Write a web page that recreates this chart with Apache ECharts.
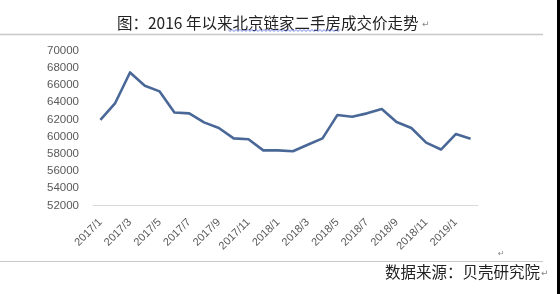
<!DOCTYPE html>
<html>
<head>
<meta charset="utf-8">
<script src="https://cdn.jsdelivr.net/npm/echarts@6/dist/echarts.min.js"></script>
<style>
html,body{margin:0;padding:0;background:#fff;}
#c{width:560px;height:294px;}
</style>
</head>
<body>
<div id="c"></div>
<script>
var categories = ['2017/1','2017/2','2017/3','2017/4','2017/5','2017/6','2017/7','2017/8','2017/9','2017/10','2017/11','2017/12',
  '2018/1','2018/2','2018/3','2018/4','2018/5','2018/6','2018/7','2018/8','2018/9','2018/10','2018/11','2018/12',
  '2019/1','2019/2'];
var prices = [61950, 63900, 67450, 65900, 65250, 62800, 62700, 61650, 61000, 59800, 59700, 58400,
  58400, 58300, 59050, 59800, 62500, 62300, 62700, 63200, 61700, 61000, 59300, 58500,
  60300, 59750];
var yMin = 52000, yMax = 70000, yStep = 2000;
var titleText = '图：2016 年以来北京链家二手房成交价走势';
var sourceText = '数据来源：贝壳研究院';

var chart = echarts.init(document.getElementById('c'), null, {renderer: 'canvas'});

var wave = [];
for (var x = 228, i = 0; x <= 340; x += 2, i++) {
  wave.push([x, 30.5 + (i % 2 ? 1 : -1)]);
}

chart.setOption({
  animation: false,
  backgroundColor: '#ffffff',
  grid: {left: 93, right: 82, top: 50.5, bottom: 88.5, containLabel: false},
  xAxis: {
    type: 'category',
    data: categories,
    boundaryGap: true,
    axisLine: {show: true, lineStyle: {color: '#d9d9d9', width: 1}},
    axisTick: {show: false},
    axisLabel: {
      interval: 1, rotate: 45, color: '#595959', fontSize: 11,
      fontFamily: 'Liberation Sans, Arial, sans-serif', margin: 15
    },
    splitLine: {show: false}
  },
  yAxis: {
    type: 'value',
    min: yMin, max: yMax, interval: yStep,
    axisLine: {show: false},
    axisTick: {show: false},
    splitLine: {show: false},
    axisLabel: {color: '#595959', fontSize: 11.5, fontFamily: 'Liberation Sans, Arial, sans-serif', margin: 14,
      formatter: function (v) { return String(v); }}
  },
  series: [{
    type: 'line',
    data: prices,
    symbol: 'none',
    lineStyle: {color: '#4a6897', width: 2.6, join: 'round'},
    itemStyle: {color: '#4a6897'}
  }],
  graphic: [
    {type: 'text', left: 117, top: 15, style: {text: titleText, fill: '#222', fontSize: 15.5, fontFamily: 'Noto Sans CJK SC'}},
    {type: 'text', left: 422, top: 20, style: {text: '↵', fill: '#888', fontSize: 9, fontFamily: 'DejaVu Sans'}},
    {type: 'polyline', shape: {points: wave}, style: {stroke: '#4a5fd0', lineWidth: 0.8, fill: null}},
    {type: 'line', shape: {x1: 0, y1: 34.5, x2: 543, y2: 34.5}, style: {stroke: '#c8c8c8', lineWidth: 1.5}},
    {type: 'line', shape: {x1: 0, y1: 261.5, x2: 543, y2: 261.5}, style: {stroke: '#c8c8c8', lineWidth: 1.2}},
    {type: 'text', left: 498, top: 250, style: {text: '↵', fill: '#888', fontSize: 8, fontFamily: 'DejaVu Sans'}},
    {type: 'text', left: 385, top: 264, style: {text: sourceText, fill: '#222', fontSize: 15.5, fontFamily: 'Noto Sans CJK SC'}},
    {type: 'text', left: 541, top: 269, style: {text: '↵', fill: '#888', fontSize: 9, fontFamily: 'DejaVu Sans'}},
    {type: 'rect', shape: {x: 557, y: 0, width: 3, height: 294}, style: {fill: '#000'}}
  ]
});
</script>
</body>
</html>
